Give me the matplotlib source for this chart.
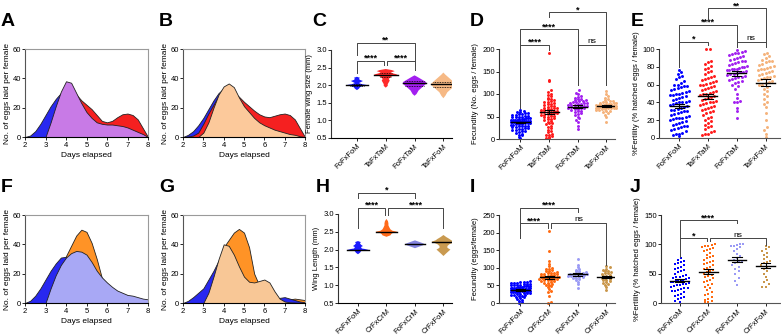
import numpy as np
import matplotlib
matplotlib.use("Agg")
import matplotlib.pyplot as plt
from matplotlib.ticker import FormatStrFormatter

plt.rcParams['font.family'] = ['Liberation Sans', 'DejaVu Sans']
plt.rcParams['font.size'] = 5.5
plt.rcParams['axes.linewidth'] = 0.8
plt.rcParams['xtick.major.width'] = 0.6
plt.rcParams['ytick.major.width'] = 0.6
plt.rcParams['xtick.major.size'] = 2
plt.rcParams['ytick.major.size'] = 2
plt.rcParams['xtick.major.pad'] = 1.5
plt.rcParams['ytick.major.pad'] = 1

# ---------------- data ----------------
days = [2, 2.25, 2.5, 2.75, 3, 3.25, 3.5, 3.75, 4, 4.25, 4.5, 4.75, 5,
        5.25, 5.5, 5.75, 6, 6.25, 6.5, 6.75, 7, 7.25, 7.5, 7.75, 8]

# panel A (eggs per female per day)
a_fofxfom = [0, 1, 4, 9, 15, 21, 26, 30, 31, 26, 18, 12, 8, 5, 3, 2, 1, 1, 0, 0, 0, 0, 0, 0, 0]
a_tafxtam = [0, 0, 0, 0, 0, 8, 18, 28, 34, 34, 29, 25, 22, 19, 15, 11, 10, 11, 13.5, 15.5, 16, 15, 12, 6, 0]
a_fofxtam = [0, 0, 0, 0, 0, 10, 21, 31, 38, 37, 30, 23, 17, 13, 10, 9, 8.5, 8.5, 8, 7.5, 6.5, 5, 3.5, 2, 0]
# panel B
b_fofxfom = [0, 1.5, 4, 8, 13, 19, 25, 30, 33, 32, 27, 20, 14, 9, 6, 4, 3, 2, 1, 1, 0.5, 0, 0, 0, 0]
b_tafxtam = [0, 0.3, 1, 3, 9, 16, 22, 28, 32, 33, 30, 27.5, 24, 21, 18, 15.5, 14, 13.5, 14.5, 15.5, 16, 15, 12, 6, 0]
b_tafxfom = [0, 0, 0, 0, 3, 10, 20, 29, 34.5, 36.5, 34, 27, 21, 17, 13, 10, 8, 6.5, 5, 4, 3, 2, 1.5, 0.5, 0]
# panel F
f_crfxcrm = [0, 0.5, 2, 4, 8, 13, 19, 26, 32, 39, 46, 50, 48.5, 41, 30, 17, 13, 10, 8, 6.5, 5, 4, 3, 2, 1.5]
f_fofxfom = [0, 1.5, 5, 10, 16, 22, 27, 31, 31.5, 27, 20, 14, 9, 6, 4, 3, 2, 1, 1, 0.5, 0, 0, 0, 0, 0]
f_fofxcrm = [0, 0, 0, 0, 0, 10, 19, 26, 31, 34, 35.5, 35, 33, 28, 22, 17.5, 14, 11, 8.5, 7, 5.5, 5, 4, 3, 2.5]
# panel G
g_crfxcrm = [0, 0.5, 1.5, 3, 6, 11, 18, 27, 38, 43, 48, 50.5, 48, 38, 20, 12, 10, 7, 4, 2.5, 2, 2.5, 3, 2.5, 2]
g_fofxfom = [0, 1.5, 4, 7, 10, 16, 22, 29, 31, 25, 18, 12, 8, 5, 4, 3.5, 3, 3, 3, 3.5, 4, 3, 2, 1, 0.5]
g_crfxfom = [0, 0, 0, 0, 0, 7, 18, 30, 40, 39, 33, 25, 18, 14.5, 14, 15, 16, 14, 8, 3, 1, 0.5, 0.3, 0.2, 0]

top_groups = ['FoFxFoM', 'TaFxTaM', 'FoFxTaM', 'TaFxFoM']
bottom_groups = ['FoFxFoM', 'CrFxCrM', 'FoFxCrM', 'CrFxFoM']

# panel C violin profiles: wing size levels (mm) and half widths (px)
c_levels = [
    [1.86, 1.90, 1.94, 1.97, 2.00, 2.03, 2.06, 2.09, 2.12, 2.15, 2.18, 2.21, 2.24],
    [1.93, 1.98, 2.03, 2.08, 2.13, 2.18, 2.23, 2.27, 2.30, 2.33, 2.36, 2.40, 2.43, 2.46],
    [1.70, 1.75, 1.80, 1.85, 1.90, 1.95, 2.00, 2.05, 2.10, 2.15, 2.20, 2.25, 2.28],
    [1.63, 1.70, 1.75, 1.80, 1.85, 1.90, 1.95, 2.00, 2.05, 2.10, 2.15, 2.20, 2.25, 2.30, 2.36],
]
c_widths = [
    [0, 2, 3, 5, 11, 5, 2, 4, 6, 3, 2, 3, 0],
    [0, 2, 2, 3, 4, 3, 5, 7, 12, 8, 5, 9, 6, 0],
    [0, 2, 3, 4, 6, 8, 10, 12, 11, 8, 5, 2, 0],
    [0, 2, 3, 4, 6, 8, 10, 12, 12, 10, 8, 6, 4, 2, 0],
]
c_medians = [2.00, 2.30, 2.07, 2.02]
c_quartiles = [(1.98, 2.03), (2.24, 2.35), (1.98, 2.12), (1.96, 2.10)]

# panel H violin profiles
h_levels = [
    [1.87, 1.91, 1.95, 1.98, 2.00, 2.03, 2.07, 2.10, 2.14, 2.18, 2.21, 2.24],
    [2.36, 2.40, 2.44, 2.48, 2.50, 2.53, 2.57, 2.62, 2.68, 2.74, 2.80, 2.86],
    [2.04, 2.08, 2.12, 2.15, 2.18, 2.22, 2.26],
    [1.82, 1.86, 1.90, 1.95, 2.00, 2.05, 2.10, 2.15, 2.20, 2.22, 2.26, 2.30, 2.35, 2.41],
]
h_widths = [
    [0, 2, 3, 4, 11, 4, 3, 5, 3, 2, 3, 0],
    [0, 4, 5, 7, 11, 6, 4, 3, 2, 2, 1.5, 0],
    [0, 4, 8, 10, 8, 4, 0],
    [0, 1.5, 3, 5, 7, 4, 4, 6, 10, 12, 8, 6, 3, 0],
]
h_medians = [2.00, 2.50, 2.15, 2.22]

# panel D fecundity (eggs / female)
d_fofxfom = [2, 5, 8, 10, 12, 14, 15, 17, 18, 20, 21, 22, 23, 24, 25, 26, 27, 28, 29, 30, 30, 31,
             32, 33, 33, 34, 35, 35, 36, 37, 37, 38, 38, 39, 39, 40, 40, 40, 41, 41, 42, 42, 43, 43,
             44, 45, 45, 46, 47, 47, 48, 49, 50, 50, 51, 52, 53, 54, 55, 56, 57, 58, 59, 60, 62, 64]
d_tafxtam = [2, 3, 4, 6, 9, 10, 12, 15, 18, 20, 24, 27, 30, 33, 35, 36, 38, 40, 42, 44, 45, 46, 48,
             50, 51, 52, 53, 54, 55, 56, 57, 58, 59, 60, 60, 61, 62, 63, 64, 65, 66, 67, 68, 69, 70,
             72, 73, 74, 75, 77, 78, 80, 82, 83, 84, 86, 88, 90, 92, 95, 98, 100, 104, 108, 128, 131, 191]
d_fofxtam = [22, 30, 38, 42, 46, 50, 53, 55, 58, 60, 62, 63, 65, 66, 67, 68, 69, 70, 71, 72, 72, 73,
             73, 74, 75, 75, 76, 77, 78, 79, 80, 81, 82, 83, 84, 85, 86, 87, 88, 90, 92, 94, 96, 99, 103, 108]
d_tafxfom = [38, 48, 54, 57, 60, 62, 63, 64, 65, 66, 67, 68, 68, 69, 69, 70, 70, 71, 71, 72, 72, 72,
             73, 73, 73, 74, 74, 75, 75, 76, 76, 77, 78, 78, 79, 80, 81, 82, 83, 84, 85, 87, 89, 92, 95, 100, 106]

# panel E fertility (% hatched)
e_fofxfom = [2, 3, 4, 5, 6, 8, 9, 10, 11, 12, 13, 14, 15, 16, 17, 18, 19, 20, 21, 22, 22, 23, 24,
             25, 26, 27, 28, 29, 30, 30, 31, 32, 33, 34, 35, 36, 37, 38, 39, 40, 40, 41, 42, 43, 44,
             45, 46, 47, 48, 48, 49, 50, 51, 52, 53, 54, 55, 56, 57, 58, 58, 59, 60, 62, 64, 66, 68,
             70, 72, 74, 76]
e_tafxtam = [3, 4, 5, 7, 8, 10, 12, 13, 15, 17, 19, 20, 22, 24, 26, 28, 29, 30, 32, 33, 34, 35, 36,
             37, 38, 39, 40, 41, 42, 43, 44, 45, 46, 47, 48, 49, 50, 51, 52, 53, 54, 55, 56, 57, 58,
             59, 60, 61, 62, 63, 64, 65, 66, 67, 68, 70, 72, 74, 75, 77, 79, 81, 83, 85, 87, 100, 100]
e_fofxtam = [23, 30, 34, 40, 41, 42, 45, 50, 55, 58, 60, 62, 63, 64, 65, 66, 67, 68, 69, 70, 71, 72,
             72, 73, 74, 74, 75, 76, 76, 77, 78, 78, 79, 80, 80, 81, 82, 83, 84, 85, 86, 87, 88, 89,
             90, 91, 92, 93, 94, 95, 96, 97, 98, 99]
e_tafxfom = [1, 5, 9, 12, 20, 28, 35, 38, 40, 44, 47, 50, 53, 55, 57, 59, 60, 62, 63, 64, 65, 66,
             67, 68, 69, 70, 71, 72, 73, 74, 75, 76, 77, 78, 79, 80, 81, 82, 83, 85, 86, 87, 88, 90, 92, 94, 96]

# panel I fecundity (eggs/female)
i_fofxfom = [1, 3, 6, 9, 12, 14, 16, 18, 20, 21, 22, 23, 24, 25, 26, 27, 28, 29, 30, 30, 31, 32, 32,
             33, 34, 34, 35, 35, 36, 36, 37, 37, 38, 38, 39, 39, 40, 40, 40, 41, 41, 42, 42, 43, 43,
             44, 44, 45, 45, 46, 47, 47, 48, 49, 50, 50, 51, 52, 53, 54, 55, 56, 57, 58, 59, 60, 61, 62]
i_crfxcrm = [0, 2, 20, 30, 35, 40, 45, 48, 50, 52, 54, 56, 58, 60, 62, 63, 64, 65, 66, 67, 68, 69,
             70, 70, 71, 72, 72, 73, 74, 75, 76, 77, 78, 79, 80, 81, 82, 83, 84, 85, 86, 88, 90, 92,
             94, 96, 98, 100, 105, 110, 120, 148, 205]
i_fofxcrm = [42, 55, 60, 65, 68, 70, 72, 74, 75, 76, 77, 78, 79, 80, 80, 81, 82, 83, 84, 85, 86, 88,
             90, 92, 95, 98, 102, 108, 125]
i_crfxfom = [38, 45, 50, 55, 58, 60, 62, 64, 66, 68, 70, 72, 74, 75, 76, 78, 80, 82, 84, 86, 88, 90,
             92, 95, 98, 101, 104]

# panel J fertility (% hatched)
j_fofxfom = [2, 4, 6, 8, 10, 12, 14, 16, 18, 20, 21, 22, 24, 25, 26, 28, 29, 30, 31, 32, 33, 34, 35,
             36, 37, 38, 39, 40, 41, 42, 43, 44, 45, 46, 48, 50, 52, 54, 56, 58, 60, 62, 64, 66, 68, 70, 72, 74, 76]
j_crfxcrm = [1, 2, 3, 5, 7, 10, 13, 16, 19, 22, 25, 28, 30, 33, 36, 38, 40, 42, 44, 46, 48, 50, 52,
             54, 56, 58, 60, 62, 64, 66, 68, 70, 72, 74, 76, 78, 80, 82, 85, 88, 90, 92, 94, 96, 97, 98, 99, 100]
j_fofxcrm = [30, 38, 42, 50, 55, 58, 62, 65, 68, 70, 72, 74, 76, 80, 84, 88, 92, 95, 97, 98, 99, 100, 100]
j_crfxfom = [27, 28, 32, 35, 40, 45, 50, 55, 58, 62, 65, 68, 70, 72, 75, 78, 82, 85, 88, 92, 95, 97]

BLUE, RED, PURPLE, TAN = '#0000ff', '#ff1a1a', '#a21ff0', '#f5b27a'
ORANGE, LAVENDER, GOLD = '#ff6a10', '#9a9af5', '#c9964a'

# ---------------- layout ----------------
W, H = 784, 336
fig = plt.figure(figsize=(W / 100, H / 100), dpi=100)


def add_ax(x0, y0, x1, y1):
    return fig.add_axes([x0 / W, 1 - y1 / H, (x1 - x0) / W, (y1 - y0) / H])


def egg_panel(ax, layers):
    for vals, col in layers:
        ax.fill_between(days, vals, 0, facecolor=col, edgecolor='#222222', linewidth=0.6)
    ax.set_xlim(2, 8)
    ax.set_ylim(0, 60)
    ax.set_xticks(range(2, 9))
    ax.set_yticks([0, 20, 40, 60])
    for s in ('top', 'right'):
        ax.spines[s].set_color('#9a9a9a')
    ax.spines['left'].set_color('#555555')
    ax.set_xlabel('Days elapsed', labelpad=2, fontsize=6)
    ax.set_ylabel('No. of eggs laid per female', labelpad=1, fontsize=6)


def cat_axes(ax, labels, xlim, ylim, yticks, ylabel, dotted=True, fmt=None):
    ax.set_xlim(*xlim)
    ax.set_ylim(*ylim)
    ax.set_xticks(range(4))
    ax.set_xticklabels(labels, rotation=45, ha='right', va='top', rotation_mode='anchor')
    ax.set_yticks(yticks)
    if fmt:
        ax.yaxis.set_major_formatter(FormatStrFormatter(fmt))
    ax.spines[['top', 'right']].set_visible(False)
    ax.spines['left'].set_color('#333333')
    if dotted:
        ax.spines['bottom'].set_linestyle((0, (1, 1)))
        ax.spines['bottom'].set_color('#555555')
    ax.set_ylabel(ylabel, labelpad=2)


def violins(ax, levels, widths, colors, medians, quartiles=None, unit_px=28.8):
    for i in range(4):
        hw = np.array(widths[i]) / unit_px
        ax.fill_betweenx(levels[i], i - hw, i + hw, facecolor=colors[i], edgecolor='none', zorder=2)
        mw = np.interp(medians[i], levels[i], hw)
        ax.plot([i - mw, i + mw], [medians[i]] * 2, color='black', lw=1.0, zorder=3)
        if quartiles:
            for q in quartiles[i]:
                qw = np.interp(q, levels[i], hw)
                ax.plot([i - qw, i + qw], [q, q], color='black', lw=0.6, ls=(0, (1, 1)), zorder=3)


def swarm_x(vals, ppu, bin_px, gap_px=3.2, max_px=10, unit_px=28.7):
    # rows of points (GraphPad style), squeezed when a row gets too wide
    rows = {}
    for k, v in enumerate(vals):
        rows.setdefault(int(round(v * ppu / bin_px)), []).append(k)
    off = np.zeros(len(vals))
    for idx in rows.values():
        n = len(idx)
        gap = gap_px if n < 2 else min(gap_px, 2 * max_px / (n - 1))
        for j, k in enumerate(idx):
            off[k] = (j - (n - 1) / 2) * gap / unit_px
    return off


def dots(ax, groups, colors, ppu, bin_px, max_px=10, marker='o'):
    for i, vals in enumerate(groups):
        xs = i + swarm_x(vals, ppu, bin_px, max_px=max_px)
        ax.scatter(xs, vals, s=4.5, color=colors[i], marker=marker, linewidths=0, zorder=2, clip_on=False)
        m = np.mean(vals)
        se = np.std(vals, ddof=1) / np.sqrt(len(vals))
        ax.plot([i - 0.33, i + 0.33], [m, m], color='black', lw=1.0, zorder=5)
        ax.plot([i, i], [m - se, m + se], color='black', lw=0.8, zorder=5)
        for y in (m - se, m + se):
            ax.plot([i - 0.16, i + 0.16], [y, y], color='black', lw=0.8, zorder=5)


def bracket(ax, x1, x2, top, l1, l2, label):
    ax.plot([x1, x1, x2, x2], [l1, top, top, l2], color='#444444', lw=0.7, clip_on=False, zorder=6)
    star = '*' in label
    ax.annotate(label, xy=((x1 + x2) / 2, top), xytext=(0, 0.0 if star else 1.2),
                textcoords='offset points', ha='center', va='baseline',
                fontsize=6.5 if star else 6, fontweight='bold' if star else 'normal',
                annotation_clip=False)


# A / B / F / G
axA = add_ax(25, 49, 148, 137)
egg_panel(axA, [(a_tafxtam, '#f52020'), (a_fofxfom, '#2828f0'), (a_fofxtam, '#c87ae6')])
axB = add_ax(183, 49, 305, 137)
egg_panel(axB, [(b_fofxfom, '#2828f0'), (b_tafxtam, '#f52020'), (b_tafxfom, '#fcc99b')])
axF = add_ax(25, 215, 148, 303)
egg_panel(axF, [(f_crfxcrm, '#ff9326'), (f_fofxfom, '#2828f0'), (f_fofxcrm, '#a8a8f5')])
axG = add_ax(183, 215, 305, 303)
egg_panel(axG, [(g_crfxcrm, '#ff9326'), (g_fofxfom, '#2828f0'), (g_crfxfom, '#f8c796')])

# C
axC = add_ax(331, 50, 452, 138)
cat_axes(axC, top_groups, (-0.9, 3.3), (0.5, 3.0), [0.5, 1.0, 1.5, 2.0, 2.5, 3.0],
         'Female wing size (mm)', dotted=False, fmt='%.1f')
violins(axC, c_levels, c_widths, ['#1a1aff', '#ff2a2a', '#a31ff0', '#f6b985'], c_medians, c_quartiles)
bracket(axC, 0, 0.95, 2.70, 2.35, 2.57, '****')
bracket(axC, 1.05, 2.0, 2.70, 2.57, 2.43, '****')
bracket(axC, 0, 2.0, 3.20, 2.86, 2.57, '**')

# D
axD = add_ax(499, 49, 615, 139)
cat_axes(axD, top_groups, (-0.75, 3.3), (0, 200), [0, 50, 100, 150, 200],
         'Fecundity (No. eggs / female)')
dots(axD, [d_fofxfom, d_tafxtam, d_fofxtam, d_tafxfom], [BLUE, RED, PURPLE, TAN], 0.45, 2.5)
bracket(axD, 0, 1, 209, 69, 198, '****')
bracket(axD, 0, 2, 244, 69, 120, '****')
bracket(axD, 1, 3, 282, 271, 120, '*')
bracket(axD, 2, 3, 209, 120, 120, 'ns')

# E
axE = add_ax(659, 49, 780, 138)
cat_axes(axE, top_groups, (-0.7, 3.5), (0, 100), [0, 20, 40, 60, 80, 100],
         '%Fertility (% hatched eggs / female)')
dots(axE, [e_fofxfom, e_tafxtam, e_fofxtam, e_tafxfom], [BLUE, RED, PURPLE, TAN], 0.89, 5.0)
bracket(axE, 0, 1, 108, 80, 104, '*')
bracket(axE, 0, 2, 127, 80, 102, '****')
bracket(axE, 1, 3, 146, 132, 107, '**')
bracket(axE, 2, 3, 108, 102, 102, 'ns')

# H
axH = add_ax(338, 214, 452, 303)
cat_axes(axH, bottom_groups, (-0.7, 3.3), (0.5, 3.0), [0.5, 1.0, 1.5, 2.0, 2.5, 3.0],
         'Wing Length (mm)', dotted=False, fmt='%.1f')
violins(axH, h_levels, h_widths, ['#1a1aff', '#ff6a1a', '#8585e0', '#c99a50'], h_medians)
bracket(axH, 0, 0.95, 3.17, 2.61, 2.98, '****')
bracket(axH, 1.05, 3, 3.17, 2.98, 2.61, '****')
bracket(axH, 0, 2, 3.59, 3.46, 3.46, '*')

# I
axI = add_ax(499, 215, 615, 303)
cat_axes(axI, bottom_groups, (-0.75, 3.3), (0, 250), [0, 50, 100, 150, 200, 250],
         'Fecundity (eggs/female)')
dots(axI, [i_fofxfom, i_crfxcrm, i_fofxcrm, i_crfxfom], [BLUE, ORANGE, LAVENDER, GOLD], 0.352, 2.3)
bracket(axI, 0, 0.95, 227, 185, 213, '****')
bracket(axI, 1.05, 3, 227, 213, 108, 'ns')
bracket(axI, 0, 2, 270, 185, 259, '****')

# J
axJ = add_ax(661, 215, 780, 303)
cat_axes(axJ, bottom_groups, (-0.65, 3.5), (0, 150), [0, 50, 100, 150],
         '%Fertility (% hatched eggs / female)')
dots(axJ, [j_fofxfom, j_crfxcrm, j_fofxcrm, j_crfxfom], [BLUE, ORANGE, LAVENDER, GOLD], 0.589, 4.5,
     max_px=9, marker='s')
bracket(axJ, 0, 0.95, 110, 79, 105, '*')
bracket(axJ, 1.05, 3, 110, 105, 99, 'ns')
bracket(axJ, 0, 2, 141, 111, 136, '****')

# panel letters
for letter, (x, y) in {'A': (1, 21), 'B': (159, 21), 'C': (312, 21), 'D': (470, 21), 'E': (631, 21),
                       'F': (1, 187), 'G': (159, 187), 'H': (316, 187), 'I': (470, 187),
                       'J': (630, 187)}.items():
    fig.text(x / W, 1 - y / H, letter, fontsize=14, fontweight='bold', ha='left', va='center')

fig.savefig('out.png', dpi=100)
